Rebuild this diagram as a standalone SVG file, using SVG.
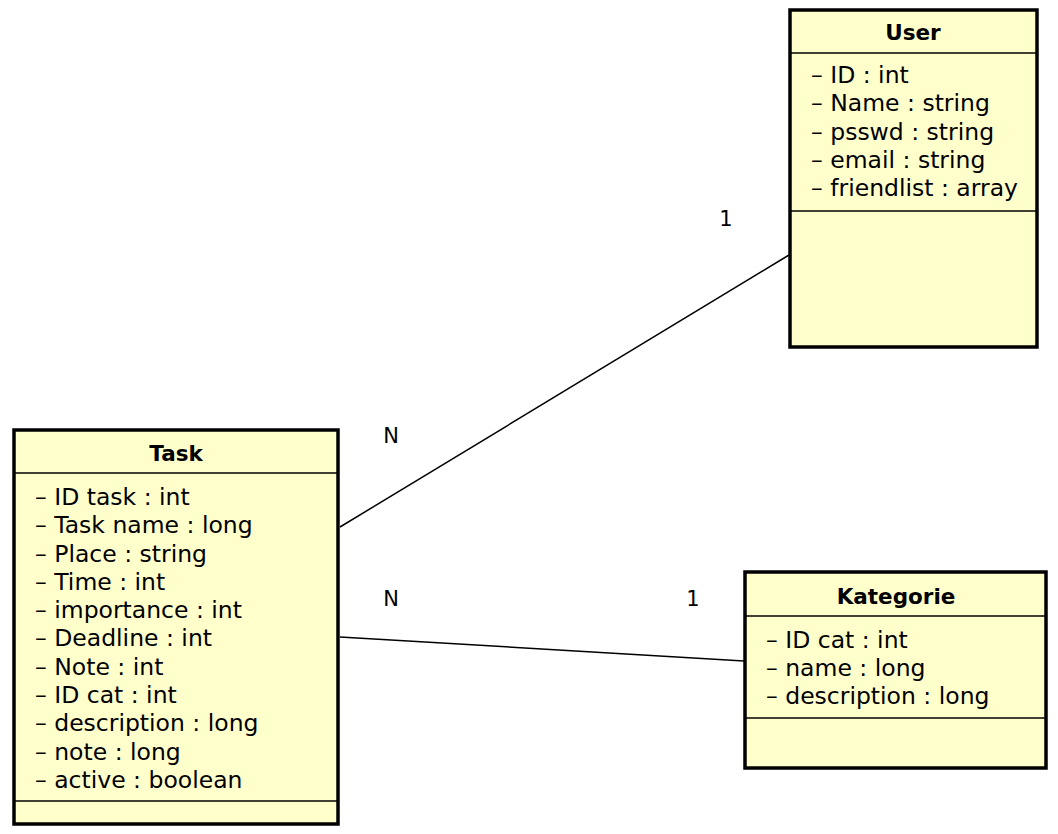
<svg xmlns="http://www.w3.org/2000/svg" width="1058" height="834" viewBox="0 0 1058 834">
<style>
.box{fill:#ffffcc;stroke:#000;stroke-width:3.5}
.sep{stroke:#000;stroke-width:1.3}
.title{font-family:"DejaVu Sans",sans-serif;font-weight:bold;font-size:21.5px;text-anchor:middle;fill:#000}
.attr{font-family:"DejaVu Sans",sans-serif;font-size:23.5px;fill:#000}
.lbl{font-family:"DejaVu Sans",sans-serif;font-size:21px;fill:#000;text-anchor:middle}
.conn{stroke:#000;stroke-width:1.5;fill:none}
</style>
<rect width="1058" height="834" fill="#fff"/>
<g id="connectors">
<line class="conn" x1="340" y1="527" x2="789" y2="255"/>
<line class="conn" x1="340" y1="637" x2="744" y2="661"/>
<text class="lbl" x="726" y="226">1</text>
<text class="lbl" x="391" y="443">N</text>
<text class="lbl" x="391" y="606">N</text>
<text class="lbl" x="693" y="606">1</text>
</g>
<g id="User">
<rect class="box" x="790" y="10" width="247" height="337"/>
<line class="sep" x1="790" y1="53" x2="1037" y2="53"/>
<line class="sep" x1="790" y1="211" x2="1037" y2="211"/>
<text class="title" x="913" y="40">User</text>
<text class="attr" x="811" y="83">– ID : int</text>
<text class="attr" x="811" y="111">– Name : string</text>
<text class="attr" x="811" y="140">– psswd : string</text>
<text class="attr" x="811" y="168">– email : string</text>
<text class="attr" x="811" y="196">– friendlist : array</text>
</g>
<g id="Task">
<rect class="box" x="14" y="430" width="324" height="394"/>
<line class="sep" x1="14" y1="473" x2="338" y2="473"/>
<line class="sep" x1="14" y1="801" x2="338" y2="801"/>
<text class="title" x="176" y="461">Task</text>
<text class="attr" x="35" y="505">– ID task : int</text>
<text class="attr" x="35" y="533">– Task name : long</text>
<text class="attr" x="35" y="562">– Place : string</text>
<text class="attr" x="35" y="590">– Time : int</text>
<text class="attr" x="35" y="618">– importance : int</text>
<text class="attr" x="35" y="646">– Deadline : int</text>
<text class="attr" x="35" y="675">– Note : int</text>
<text class="attr" x="35" y="703">– ID cat : int</text>
<text class="attr" x="35" y="731">– description : long</text>
<text class="attr" x="35" y="760">– note : long</text>
<text class="attr" x="35" y="788">– active : boolean</text>
</g>
<g id="Kategorie">
<rect class="box" x="745" y="572" width="301" height="196"/>
<line class="sep" x1="745" y1="616" x2="1046" y2="616"/>
<line class="sep" x1="745" y1="718" x2="1046" y2="718"/>
<text class="title" x="896" y="604">Kategorie</text>
<text class="attr" x="766" y="648">– ID cat : int</text>
<text class="attr" x="766" y="676">– name : long</text>
<text class="attr" x="766" y="704">– description : long</text>
</g>
</svg>
